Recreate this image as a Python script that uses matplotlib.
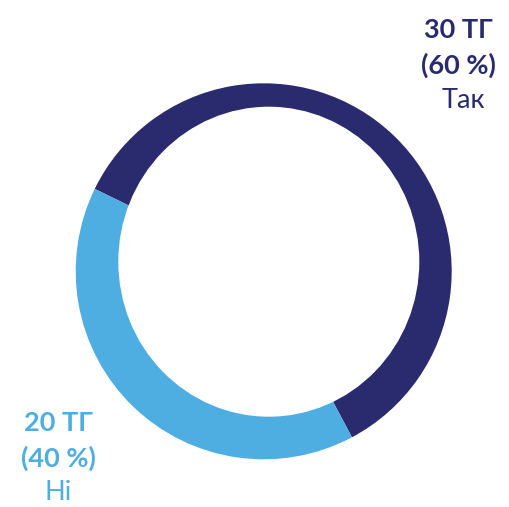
import matplotlib.pyplot as plt
from matplotlib.patches import Ellipse

# data
labels = ["Так", "Ні"]
counts = [30, 20]
shares = [60, 40]
colors = ["#2a2b6e", "#4eade1"]

fig = plt.figure(figsize=(5.10, 5.07), dpi=100)
ax = fig.add_axes([0, 0, 1, 1])

# outer ring as a full pie, hole cut out by an off-centre white ellipse
ax.pie(counts, colors=colors, startangle=-62, counterclock=True,
       center=(263.7, 235.7), radius=188, frame=False)
ax.add_patch(Ellipse((268.8, 245.3), 301, 310, facecolor="white", edgecolor="none", zorder=5))

ax.set_xlim(0, 510)
ax.set_ylim(0, 507)
ax.set_aspect("auto")
ax.axis("off")

fam = ["Lato", "Open Sans", "DejaVu Sans"]
pos = [(458, 477), (58, 84)]
for i in range(len(labels)):
    x, y = pos[i]
    ax.text(x, y, f"{counts[i]} ТГ", color=colors[i], fontsize=19.5, fontweight="bold",
            ha="center", va="center", family=fam)
    ax.text(x, y - 35, f"({shares[i]} %)", color=colors[i], fontsize=19.5, fontweight="bold",
            ha="center", va="center", family=fam)
    ax.text(x + (5 if i == 0 else 0), y - 70, labels[i], color=colors[i], fontsize=19.5,
            ha="center", va="center", family=fam)

fig.savefig("out.png", dpi=100)
